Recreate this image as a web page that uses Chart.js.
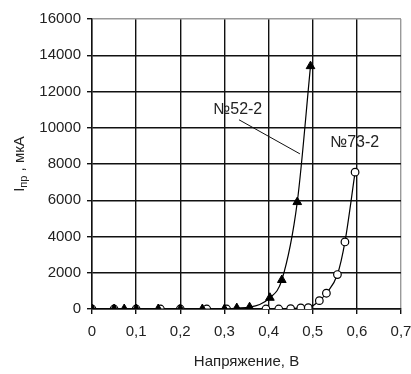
<!DOCTYPE html>
<html>
<head>
<meta charset="utf-8">
<script src="https://cdn.jsdelivr.net/npm/chart.js@4.4.0/dist/chart.umd.min.js"></script>
<style>
  html, body { margin: 0; padding: 0; background: #fff; }
</style>
</head>
<body>
<canvas id="chart" width="411" height="374"></canvas>
<script>
// серия №52-2 (треугольники)
const voltage52 = [0, 0.05, 0.073, 0.1, 0.15, 0.2, 0.25, 0.3, 0.328, 0.357, 0.403, 0.43, 0.465, 0.495];
const current52 = [0, 0, 0, 0, 0, 0, 0, 0, 50, 100, 620, 1600, 5900, 13400];

// серия №73-2 (кружки)
const voltage73 = [0, 0.05, 0.1, 0.155, 0.2, 0.26, 0.305, 0.394, 0.423, 0.45, 0.473, 0.49, 0.515, 0.531, 0.556, 0.573, 0.596];
const current73 = [0, 0, 0, 0, 0, 0, 0, 0, 0, 20, 60, 70, 460, 870, 1900, 3700, 7550];

const seriesNames = ['№52-2', '№73-2'];
const xTicks = [0, 0.1, 0.2, 0.3, 0.4, 0.5, 0.6, 0.7];
const yTicks = [0, 2000, 4000, 6000, 8000, 10000, 12000, 14000, 16000];

const FONT = 'Arial, "Liberation Sans", sans-serif';
const TXT = '#222';

const toPoints = (xs, ys) => xs.map((x, i) => ({ x: x, y: ys[i] }));

// подписи серий и ось Y с подстрочным индексом
const extras = {
    id: 'extras',
    afterDraw(chart) {
        const { ctx, scales: { x, y } } = chart;
        ctx.save();
        ctx.fillStyle = TXT;
        ctx.font = '16px ' + FONT;
        ctx.textAlign = 'center';
        ctx.textBaseline = 'middle';
        ctx.fillText(seriesNames[0], x.getPixelForValue(0.33), y.getPixelForValue(11000));
        ctx.fillText(seriesNames[1], x.getPixelForValue(0.595), y.getPixelForValue(9170));

        // выноска к кривой №52-2
        ctx.beginPath();
        ctx.strokeStyle = '#111';
        ctx.lineWidth = 1;
        ctx.moveTo(x.getPixelForValue(0.333), y.getPixelForValue(10440));
        ctx.lineTo(x.getPixelForValue(0.471), y.getPixelForValue(8560));
        ctx.stroke();

        // заголовок оси Y: I пр , мкА
        ctx.translate(18.5, 164);
        ctx.rotate(-Math.PI / 2);
        ctx.textAlign = 'left';
        ctx.textBaseline = 'alphabetic';
        const big = '15px ' + FONT, small = '11px ' + FONT;
        ctx.font = big;
        const w1 = ctx.measureText('I').width;
        const w3 = ctx.measureText(' , мкА').width;
        ctx.font = small;
        const w2 = ctx.measureText('пр').width;
        let cx = -(w1 + w2 + w3) / 2;
        ctx.font = big;
        ctx.fillText('I', cx, 5);
        cx += w1;
        ctx.font = small;
        ctx.fillText('пр', cx, 8);
        cx += w2;
        ctx.font = big;
        ctx.fillText(' , мкА', cx, 5);
        ctx.restore();
    }
};

const bg = {
    id: 'bg',
    beforeDraw(chart) {
        const ctx = chart.ctx;
        ctx.save();
        ctx.fillStyle = '#fff';
        ctx.fillRect(0, 0, chart.width, chart.height);
        ctx.restore();
    }
};

new Chart(document.getElementById('chart'), {
    type: 'scatter',
    data: {
        datasets: [
            {
                label: seriesNames[0],
                data: toPoints(voltage52, current52),
                showLine: true,
                borderColor: '#000',
                borderWidth: 1.2,
                cubicInterpolationMode: 'monotone',
                pointStyle: 'triangle',
                pointRadius: 5,
                pointBackgroundColor: '#000',
                pointBorderColor: '#000',
                pointBorderWidth: 1,
                order: 1
            },
            {
                label: seriesNames[1],
                data: toPoints(voltage73, current73),
                showLine: true,
                borderColor: '#000',
                borderWidth: 1.2,
                cubicInterpolationMode: 'monotone',
                pointStyle: 'circle',
                pointRadius: 3.8,
                pointBackgroundColor: '#fff',
                pointBorderColor: '#000',
                pointBorderWidth: 1.2,
                order: 2
            }
        ]
    },
    options: {
        responsive: false,
        animation: false,
        layout: { padding: { left: 0, top: 19, right: 10, bottom: 0 } },
        plugins: {
            legend: { display: false },
            tooltip: { enabled: false }
        },
        scales: {
            x: {
                type: 'linear',
                min: 0,
                max: 0.7,
                afterBuildTicks: (s) => { s.ticks = xTicks.map(v => ({ value: v })); },
                afterFit: (s) => { s.height = 65; s.paddingRight = 0; s.paddingLeft = 0; },
                ticks: {
                    padding: 9,
                    color: TXT,
                    font: { family: FONT, size: 15 },
                    callback: (v) => v === 0 ? '0' : v.toFixed(1).replace('.', ',')
                },
                grid: {
                    color: (c) => c.tick && c.tick.value === 0.7 ? '#9a9a9a' : '#111',
                    tickColor: '#111',
                    lineWidth: 1.4,
                    tickLength: 5
                },
                border: { color: '#111', width: 1.4 },
                title: {
                    display: true,
                    text: 'Напряжение, В',
                    color: TXT,
                    font: { family: FONT, size: 15 },
                    padding: { top: 0, bottom: 3 }
                }
            },
            y: {
                min: 0,
                max: 16000,
                afterBuildTicks: (s) => { s.ticks = yTicks.map(v => ({ value: v })); },
                afterFit: (s) => { s.width = 92; s.paddingTop = 0; s.paddingBottom = 0; },
                ticks: {
                    padding: 6,
                    color: TXT,
                    font: { family: FONT, size: 15 },
                    callback: (v) => String(v)
                },
                grid: {
                    color: (c) => c.tick && c.tick.value === 16000 ? '#9a9a9a' : '#111',
                    tickColor: '#111',
                    lineWidth: 1.4,
                    tickLength: 5
                },
                border: { color: '#111', width: 1.4 }
            }
        }
    },
    plugins: [bg, extras]
});
</script>
</body>
</html>
